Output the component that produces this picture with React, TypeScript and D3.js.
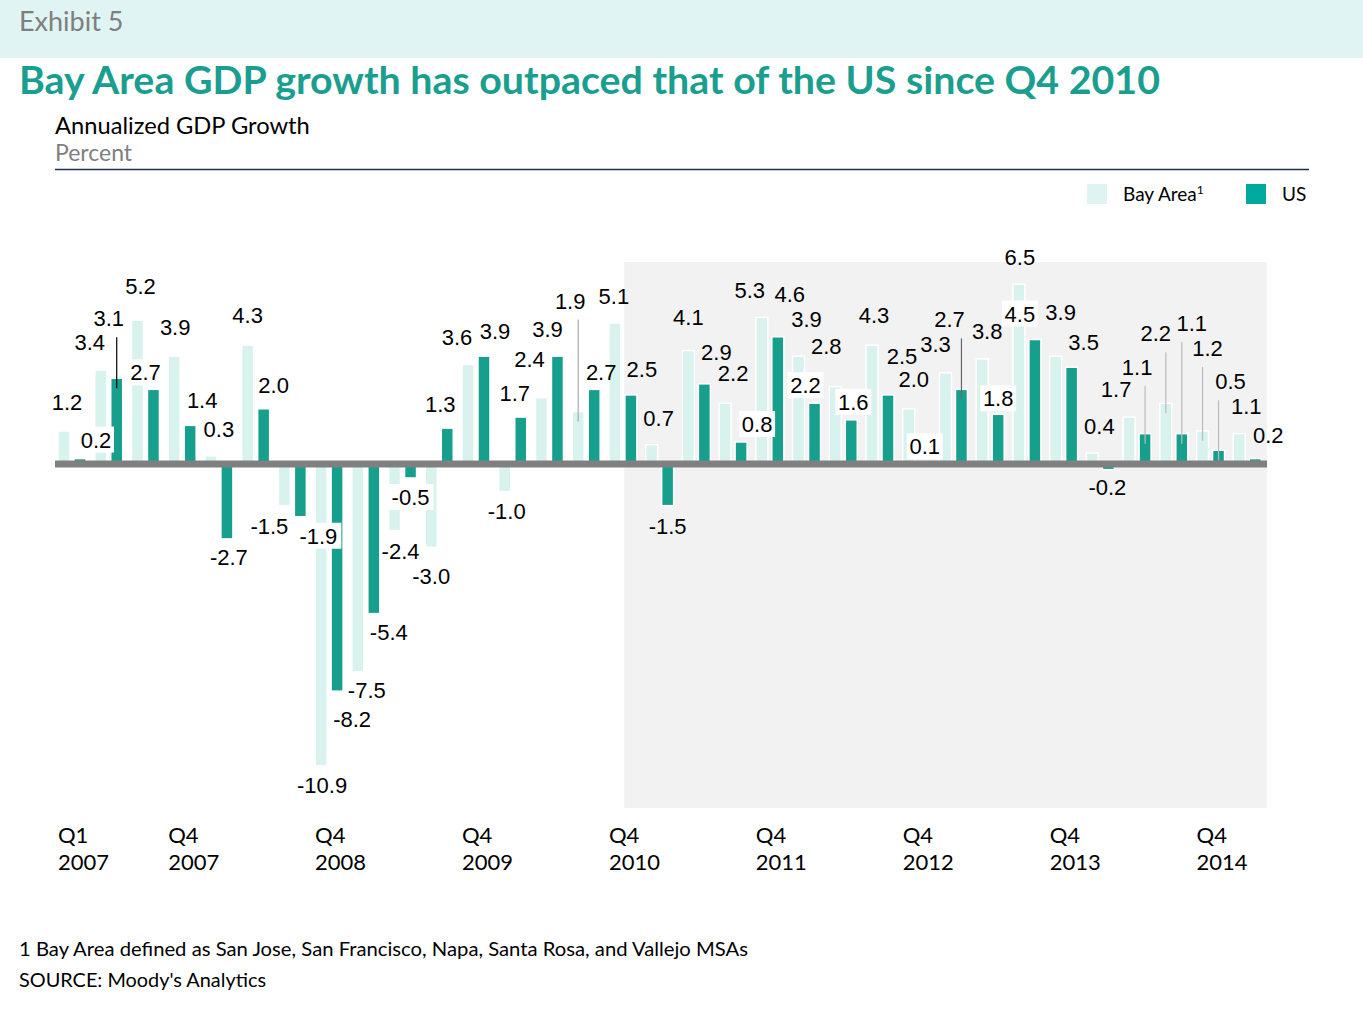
import React from "react";
import * as d3 from "d3";

// ---- data ----
const quarters = [
  "Q1 2007", "Q2 2007", "Q3 2007", "Q4 2007",
  "Q1 2008", "Q2 2008", "Q3 2008", "Q4 2008",
  "Q1 2009", "Q2 2009", "Q3 2009", "Q4 2009",
  "Q1 2010", "Q2 2010", "Q3 2010", "Q4 2010",
  "Q1 2011", "Q2 2011", "Q3 2011", "Q4 2011",
  "Q1 2012", "Q2 2012", "Q3 2012", "Q4 2012",
  "Q1 2013", "Q2 2013", "Q3 2013", "Q4 2013",
  "Q1 2014", "Q2 2014", "Q3 2014", "Q4 2014",
  "Q1 2015",
];
const bayArea = [
  1.2, 3.4, 5.2, 3.9, 0.3, 4.3, -1.5, -10.9, -7.5, -2.4, -3.0, 3.6, -1.0, 2.4, 1.9, 5.1,
  0.7, 4.1, 2.2, 5.3, 3.9, 2.8, 4.3, 2.0, 3.3, 3.8, 6.5, 3.9, 0.4, 1.7, 2.2, 1.2, 1.1,
];
const us = [
  0.2, 3.1, 2.7, 1.4, -2.7, 2.0, -1.9, -8.2, -5.4, -0.5, 1.3, 3.9, 1.7, 3.9, 2.7, 2.5,
  -1.5, 2.9, 0.8, 4.6, 2.2, 1.6, 2.5, 0.1, 2.7, 1.8, 4.5, 3.5, -0.2, 1.1, 1.1, 0.5, 0.2,
];
const tickQuarters = [
  "Q1 2007", "Q4 2007", "Q4 2008", "Q4 2009", "Q4 2010",
  "Q4 2011", "Q4 2012", "Q4 2013", "Q4 2014",
];
const shadeFrom = "Q4 2010";
const seriesNames = ["Bay Area", "US"];

// ---- label layout (pixel nudges relative to bar end) ----
const baNudge = [
  [3, -29], [-11, -28], [3, -34], [1, -29], [8, -27], [0, -30], [-15, 20], [1, 19], [9, 18],
  [6, 20], [0, 29], [-11, -27], [2, 19], [-12, -39], [-8, -111], [-1, -27], [7, -27], [0, -34],
  [8, -30], [-12, -27], [8, -37], [-9, -41], [2, -30], [5, -30], [-10, -29], [5, -28], [1, -27],
  [5, -44], [7, -27], [-13, -28], [-10, -70], [5, -83], [7, -28],
];
const usNudge = [
  [16, -19], [-8, -60], [-8, -17], [12, -25], [2, 18], [10, -24], [18, 19], [15, 28], [15, 18],
  [0, 19], [-7, -24], [11, -25], [-6, -24], [-10, -27], [7, -17], [11, -26], [0, 20], [12, -32],
  [16, -18], [12, -43], [-9, -18], [2, -18], [14, -39], [0, -15], [-12, -70], [0, -16], [-15, -26],
  [12, -25], [-1, 17], [-8, -67], [10, -111], [12, -69], [13, -24],
];
const usBoxed = [0, 2, 6, 9, 18, 20, 21, 23, 25, 26];
const baBoxed: number[] = [];
const baLeaders: [number, string][] = [[14, "#aaaaaa"], [30, "#bbbbbb"], [31, "#bbbbbb"]];
const usLeaders: [number, string][] = [[1, "#000000"], [24, "#666666"], [29, "#bbbbbb"], [30, "#bbbbbb"], [31, "#bbbbbb"]];

const W = 1363;
const H = 1019;
const LIGHT = "#d8f2ee";
const DARK = "#179f8e";
const TEAL_TITLE = "#1a9e8f";
const SANS = "Lato, 'Noto Sans', sans-serif";
const NUM = "'Liberation Sans', Arial, sans-serif";

export default function App() {
  const x = d3.scaleBand<string>().domain(quarters).range([55, 1267]).padding(0);
  const inner = d3.scaleBand<string>().domain(["ba", "us"]).range([3, 31]).paddingInner(0.25).paddingOuter(0);
  const y = d3.scaleLinear().domain([-12.42, 7.3]).range([808, 262]);
  const y0 = y(0);
  const bw = inner.bandwidth();

  const fmt = (v: number) => v.toFixed(1);

  const series = [
    { key: "ba", values: bayArea, fill: LIGHT, nudge: baNudge, boxed: baBoxed, leaders: baLeaders },
    { key: "us", values: us, fill: DARK, nudge: usNudge, boxed: usBoxed, leaders: usLeaders },
  ];

  const shadeX = (x(shadeFrom) as number) + x.bandwidth() / 2;

  const labels = series.flatMap((s) =>
    s.values.map((v, i) => {
      const cx = (x(quarters[i]) as number) + (inner(s.key) as number) + bw / 2 + s.nudge[i][0];
      const cy = y(v) + s.nudge[i][1];
      const t = fmt(v);
      return { id: s.key + i, cx, cy, t, boxed: s.boxed.includes(i) };
    })
  );

  return (
    <svg width={W} height={H} style={{ position: "absolute", left: 0, top: 0, background: "#fff" }}>
      {/* header band */}
      <rect x={0} y={0} width={W} height={58} fill="#e0f5f3" />
      <text x={19} y={31} fontFamily={SANS} fontSize={27} fill="#7f7f7f">Exhibit 5</text>
      <text x={19} y={94} fontFamily={SANS} fontSize={38} fontWeight={700} fill={TEAL_TITLE}
        textLength={1141} lengthAdjust="spacingAndGlyphs">
        Bay Area GDP growth has outpaced that of the US since Q4 2010
      </text>
      <text x={55} y={134} fontFamily={SANS} fontSize={23.7} fill="#000">Annualized GDP Growth</text>
      <text x={55} y={161} fontFamily={SANS} fontSize={23} fill="#808080">Percent</text>
      <line x1={55} x2={1309} y1={169.5} y2={169.5} stroke="#1f3350" strokeWidth={1.5} />

      {/* legend */}
      <rect x={1087} y={184} width={20} height={20} fill="#dff4f2" />
      <text x={1123} y={201} fontFamily={SANS} fontSize={19} fill="#000">
        {seriesNames[0]}
        <tspan fontSize={12} dy={-7}>1</tspan>
      </text>
      <rect x={1246} y={184} width={20} height={20} fill="#00a99d" />
      <text x={1282} y={201} fontFamily={SANS} fontSize={19} fill="#000">{seriesNames[1]}</text>

      {/* shaded period */}
      <rect x={shadeX} y={y(7.3)} width={1267 - shadeX} height={y(-12.42) - y(7.3)} fill="#f2f2f2" />

      {/* bars */}
      {series.map((s) =>
        s.values.map((v, i) => {
          const q = quarters[i];
          const bx = (x(q) as number) + (inner(s.key) as number);
          return (
            <rect key={s.key + i} x={bx} y={Math.min(y(v), y0)} width={bw}
              height={Math.abs(y(v) - y0)} fill={s.fill} stroke="#fff" strokeWidth={1.5} />
          );
        })
      )}

      {/* zero line */}
      <line x1={55} x2={1267} y1={y0} y2={y0} stroke="#808080" strokeWidth={7} />

      {/* leader lines */}
      {series.map((s) =>
        s.leaders.map(([i, col]) => {
          const v = s.values[i];
          const cx = (x(quarters[i]) as number) + (inner(s.key) as number) + bw / 2;
          const ly = y(v) + s.nudge[i][1];
          return (
            <line key={"ld" + s.key + i} x1={cx} x2={cx} y1={ly + 19} y2={y(v) + 10}
              stroke={col} strokeWidth={1.2} />
          );
        })
      )}

      {/* label boxes */}
      {labels.filter((l) => l.boxed).map((l) => {
        const tw = l.t.length * 10 + 6;
        return <rect key={"bx" + l.id} x={l.cx - tw / 2} y={l.cy - 13} width={tw} height={26} fill="#fff" />;
      })}

      {/* value labels */}
      {labels.map((l) => (
        <text key={"lb" + l.id} x={l.cx} y={l.cy + 8} textAnchor="middle" fontFamily={NUM} fontSize={22} fill="#000">{l.t}</text>
      ))}

      {/* category axis labels */}
      {tickQuarters.map((q) => {
        const tx = (x(q) as number) + (inner("ba") as number);
        const [qq, yr] = q.split(" ");
        return (
          <text key={q} x={tx} fontFamily={SANS} fontSize={22} fill="#000">
            <tspan x={tx} y={843}>{qq}</tspan>
            <tspan x={tx} y={870}>{yr}</tspan>
          </text>
        );
      })}

      {/* footnotes */}
      <text x={19} y={956} fontFamily={SANS} fontSize={19} fill="#000" textLength={729} lengthAdjust="spacingAndGlyphs">
        1 Bay Area defined as San Jose, San Francisco, Napa, Santa Rosa, and Vallejo MSAs
      </text>
      <text x={19} y={987} fontFamily={SANS} fontSize={19} fill="#000" textLength={247} lengthAdjust="spacingAndGlyphs">
        SOURCE: Moody's Analytics
      </text>
    </svg>
  );
}
